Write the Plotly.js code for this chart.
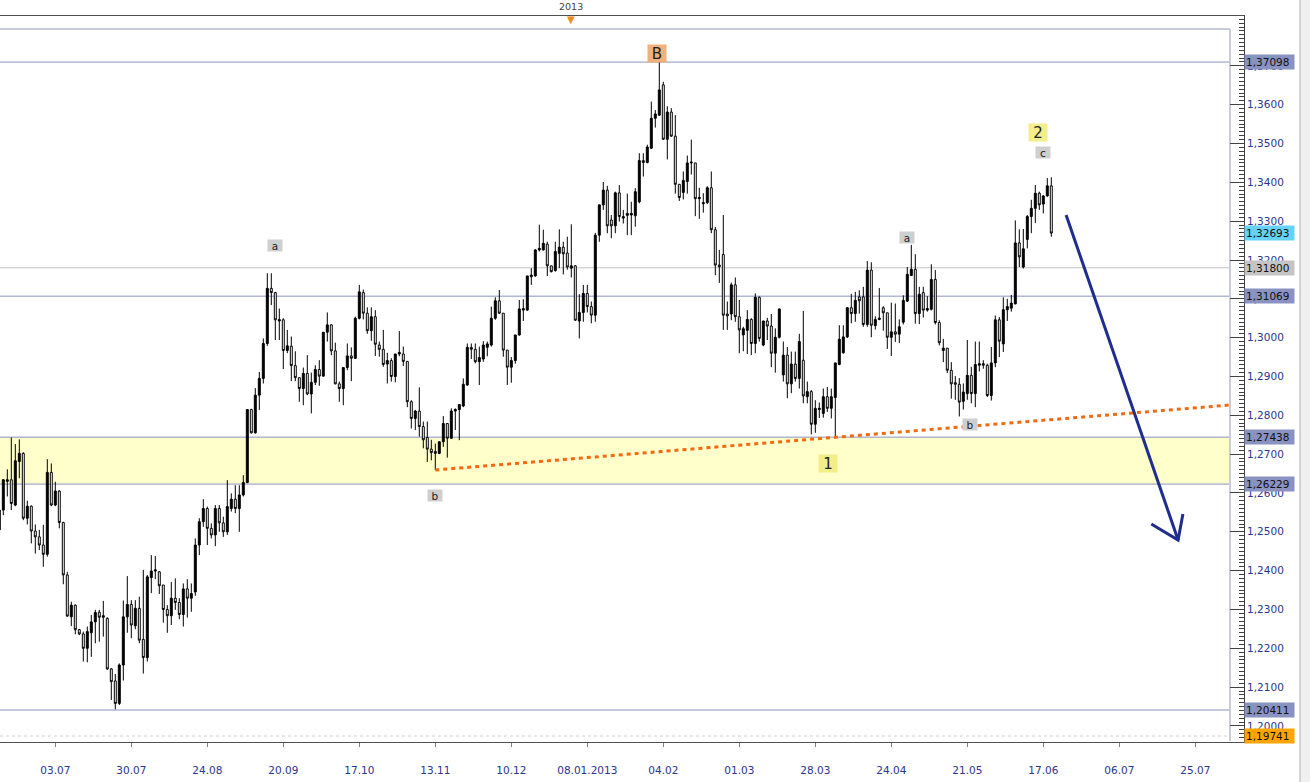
<!DOCTYPE html>
<html><head><meta charset="utf-8">
<script src="https://cdn.plot.ly/plotly-3.0.1.min.js"></script>
<style>html,body{margin:0;padding:0;background:#fff;}#chart{width:1310px;height:782px;}</style>
</head><body><div id="chart"></div>
<script>
// EUR/USD daily candles (bar index 0 = first visible bar)
const openP = [1.2505,1.2556,1.2630,1.2634,1.2569,1.2681,1.2702,1.2535,1.2566,1.2502,1.2487,1.2466,1.2442,1.2653,1.2569,1.2605,1.2524,1.2389,1.2281,1.2311,1.2248,1.2237,1.2200,1.2240,1.2268,
1.2293,1.2280,1.2277,1.2147,1.2116,1.2058,1.2157,1.2281,1.2313,1.2258,1.2303,1.2223,1.2176,1.2382,1.2399,1.2397,1.2363,1.2300,1.2284,1.2329,1.2318,1.2287,1.2353,1.2329,
1.2345,1.2466,1.2526,1.2560,1.2509,1.2492,1.2560,1.2523,1.2500,1.2560,1.2584,1.2560,1.2595,1.2627,1.2815,1.2755,1.2852,1.2895,1.2985,1.3127,1.3116,1.3047,1.3046,1.2967,
1.2978,1.2928,1.2897,1.2869,1.2908,1.2855,1.2885,1.2918,1.2901,1.3014,1.3033,1.2966,1.2881,1.2869,1.2923,1.2953,1.2947,1.3050,1.3116,1.3063,1.3018,1.3054,1.2981,1.2970,
1.2932,1.2941,1.2900,1.2958,1.2958,1.2939,1.2835,1.2792,1.2811,1.2771,1.2743,1.2713,1.2707,1.2702,1.2732,1.2779,1.2741,1.2811,1.2815,1.2824,1.2878,1.2975,1.2970,1.2938,
1.2945,1.2975,1.2981,1.3050,1.3095,1.3063,1.2968,1.2924,1.2941,1.3007,1.3071,1.3071,1.3157,1.3159,1.3226,1.3226,1.3241,1.3185,1.3173,1.3217,1.3233,1.3218,1.3179,
1.3185,1.3043,1.3065,1.3114,1.3080,1.3058,1.3264,1.3342,1.3380,1.3303,1.3288,1.3373,1.3312,1.3315,1.3316,1.3314,1.3350,1.3456,1.3451,1.3488,1.3565,1.3573,1.3651,
1.3511,1.3581,1.3519,1.3395,1.3374,1.3402,1.3450,1.3450,1.3358,1.3348,1.3348,1.3386,1.3278,1.3187,1.3214,1.3061,1.3061,1.3136,1.3054,1.3007,1.3019,1.3047,1.2985,
1.3104,1.2981,1.3043,1.3030,1.2960,1.3001,1.2904,1.2955,1.2881,1.2932,1.2895,1.2942,1.2848,1.2861,1.2777,1.2815,1.2805,1.2848,1.2818,1.2846,1.2931,1.2961,1.3002,1.3077,
1.3062,1.3105,1.3105,1.3034,1.3174,1.3031,1.3047,1.3077,1.3064,1.3001,1.3015,1.3009,1.3040,1.3094,1.3160,1.3176,1.3062,1.3116,1.3071,1.3073,1.3150,1.3039,1.2967,1.2973,
1.2916,1.2884,1.2880,1.2836,1.2856,1.2903,1.2856,1.2929,1.2933,1.2929,1.2851,1.2935,1.3046,1.2984,1.3072,1.3076,1.3087,1.3244,1.3182,1.3253,1.3312,1.3333,1.3372,1.3344,
1.3365,1.3391];
const highP = [1.2560,1.2636,1.2661,1.2743,1.2726,1.2738,1.2705,1.2580,1.2568,1.2519,1.2505,1.2518,1.2687,1.2676,1.2629,1.2607,1.2526,1.2397,1.2320,1.2313,1.2250,1.2243,1.2256,1.2286,1.2299,
1.2299,1.2322,1.2280,1.2149,1.2134,1.2161,1.2323,1.2386,1.2324,1.2324,1.2333,1.2402,1.2389,1.2440,1.2438,1.2399,1.2363,1.2311,1.2371,1.2380,1.2329,1.2367,1.2378,1.2367,
1.2483,1.2535,1.2584,1.2565,1.2522,1.2569,1.2569,1.2539,1.2633,1.2599,1.2620,1.2620,1.2646,1.2815,1.2817,1.2870,1.2912,1.2998,1.3166,1.3166,1.3118,1.3075,1.3050,1.3020,
1.3003,1.2965,1.2897,1.2923,1.2955,1.2910,1.2929,1.2942,1.3014,1.3065,1.3034,1.2987,1.2887,1.2923,1.2985,1.2975,1.3054,1.3136,1.3124,1.3078,1.3078,1.3071,1.2990,1.3020,
1.2961,1.2947,1.2958,1.3017,1.2977,1.2939,1.2839,1.2814,1.2872,1.2784,1.2784,1.2737,1.2727,1.2732,1.2798,1.2780,1.2818,1.2818,1.2828,1.2895,1.2985,1.2985,1.2985,1.2977,
1.2991,1.2990,1.3080,1.3104,1.3123,1.3063,1.2968,1.2950,1.3007,1.3097,1.3099,1.3159,1.3179,1.3228,1.3291,1.3278,1.3247,1.3185,1.3247,1.3279,1.3247,1.3260,1.3292,
1.3187,1.3112,1.3136,1.3136,1.3093,1.3270,1.3342,1.3401,1.3391,1.3316,1.3376,1.3393,1.3329,1.3371,1.3350,1.3385,1.3475,1.3475,1.3497,1.3608,1.3586,1.3710,1.3659,
1.3596,1.3591,1.3573,1.3395,1.3428,1.3469,1.3510,1.3450,1.3386,1.3372,1.3390,1.3428,1.3285,1.3226,1.3316,1.3093,1.3142,1.3155,1.3097,1.3028,1.3071,1.3050,1.3114,
1.3106,1.3043,1.3051,1.3061,1.3024,1.3074,1.2990,1.2976,1.2964,1.2964,1.3010,1.3069,1.2887,1.2865,1.2839,1.2833,1.2869,1.2873,1.2869,1.2935,1.3032,1.3032,1.3079,1.3113,
1.3118,1.3122,1.3131,1.3197,1.3194,1.3055,1.3128,1.3081,1.3064,1.3090,1.3088,1.3047,1.3109,1.3182,1.3239,1.3215,1.3131,1.3131,1.3107,1.3189,1.3174,1.3045,1.2997,1.2973,
1.2937,1.2901,1.2896,1.2882,1.2994,1.2925,1.2990,1.2990,1.2942,1.2933,1.2976,1.3057,1.3053,1.3104,1.3100,1.3110,1.3302,1.3279,1.3280,1.3316,1.3355,1.3393,1.3376,1.3367,
1.3411,1.3413];
const lowP = [1.2498,1.2543,1.2591,1.2556,1.2566,1.2638,1.2530,1.2519,1.2470,1.2444,1.2453,1.2410,1.2436,1.2566,1.2566,1.2509,1.2365,1.2281,1.2257,1.2236,1.2234,1.2166,1.2164,1.2178,1.2213,
1.2217,1.2230,1.2144,1.2067,1.2043,1.2054,1.2117,1.2240,1.2226,1.2249,1.2213,1.2135,1.2166,1.2342,1.2378,1.2340,1.2266,1.2240,1.2260,1.2299,1.2275,1.2256,1.2279,1.2294,
1.2335,1.2440,1.2513,1.2466,1.2483,1.2463,1.2500,1.2487,1.2492,1.2552,1.2548,1.2500,1.2591,1.2625,1.2753,1.2753,1.2814,1.2882,1.2979,1.3084,1.2994,1.2994,1.2919,1.2960,
1.2888,1.2888,1.2835,1.2826,1.2852,1.2805,1.2878,1.2876,1.2899,1.2990,1.2955,1.2880,1.2835,1.2826,1.2916,1.2888,1.2945,1.3047,1.3047,1.3010,1.2992,1.2953,1.2951,1.2925,
1.2882,1.2887,1.2885,1.2952,1.2927,1.2821,1.2766,1.2762,1.2745,1.2715,1.2680,1.2684,1.2659,1.2700,1.2719,1.2691,1.2739,1.2762,1.2736,1.2821,1.2876,1.2945,1.2934,1.2878,
1.2938,1.2952,1.2977,1.3046,1.3061,1.2951,1.2878,1.2884,1.2933,1.3005,1.3043,1.3069,1.3136,1.3157,1.3222,1.3224,1.3159,1.3168,1.3170,1.3179,1.3163,1.3175,1.3155,
1.3043,1.2998,1.3041,1.3065,1.3037,1.3041,1.3247,1.3329,1.3269,1.3256,1.3269,1.3299,1.3294,1.3264,1.3264,1.3286,1.3346,1.3415,1.3449,1.3486,1.3541,1.3571,1.3509,
1.3459,1.3517,1.3371,1.3352,1.3356,1.3371,1.3420,1.3313,1.3306,1.3322,1.3344,1.3269,1.3161,1.3141,1.3020,1.3020,1.3045,1.3041,1.2960,1.2965,1.2958,1.2955,1.2960,
1.2990,1.2978,1.2994,1.2924,1.2910,1.2998,1.2887,1.2844,1.2857,1.2887,1.2869,1.2831,1.2831,1.2751,1.2755,1.2793,1.2794,1.2809,1.2792,1.2743,1.2929,1.2959,1.2999,1.3037,
1.3041,1.3062,1.3028,1.3028,1.3001,1.3021,1.3045,1.3018,1.2971,1.2953,1.2989,1.2986,1.3034,1.3092,1.3159,1.3036,1.3035,1.3052,1.3067,1.3070,1.3034,1.2980,1.2937,1.2909,
1.2843,1.2840,1.2797,1.2815,1.2840,1.2831,1.2821,1.2913,1.2920,1.2847,1.2838,1.2924,1.2950,1.2963,1.3043,1.3067,1.3086,1.3182,1.3178,1.3230,1.3269,1.3295,1.3329,1.3320,
1.3363,1.3260];
const closeP = [1.2556,1.2634,1.2634,1.2573,1.2683,1.2702,1.2535,1.2566,1.2502,1.2487,1.2466,1.2442,1.2653,1.2569,1.2605,1.2524,1.2389,1.2283,1.2311,1.2248,1.2237,1.2200,1.2243,1.2268,1.2292,
1.2280,1.2284,1.2147,1.2114,1.2058,1.2157,1.2281,1.2313,1.2260,1.2303,1.2221,1.2176,1.2384,1.2399,1.2402,1.2361,1.2300,1.2284,1.2329,1.2318,1.2287,1.2353,1.2329,1.2341,
1.2466,1.2526,1.2560,1.2509,1.2492,1.2560,1.2523,1.2500,1.2565,1.2584,1.2560,1.2595,1.2627,1.2815,1.2755,1.2852,1.2895,1.2985,1.3127,1.3116,1.3046,1.3043,1.2967,1.2979,
1.2928,1.2897,1.2869,1.2908,1.2855,1.2885,1.2918,1.2901,1.3014,1.3033,1.2966,1.2881,1.2869,1.2923,1.2953,1.2947,1.3050,1.3118,1.3063,1.3018,1.3054,1.2983,1.2970,1.2931,
1.2941,1.2900,1.2958,1.2962,1.2939,1.2835,1.2792,1.2811,1.2771,1.2737,1.2713,1.2704,1.2702,1.2732,1.2779,1.2741,1.2811,1.2815,1.2828,1.2880,1.2975,1.2970,1.2938,1.2949,
1.2981,1.2984,1.3050,1.3095,1.3063,1.2968,1.2924,1.2941,1.3007,1.3074,1.3075,1.3159,1.3161,1.3226,1.3230,1.3243,1.3185,1.3170,1.3222,1.3233,1.3216,1.3182,1.3185,
1.3045,1.3065,1.3114,1.3080,1.3058,1.3264,1.3342,1.3380,1.3288,1.3288,1.3373,1.3312,1.3308,1.3320,1.3320,1.3376,1.3456,1.3451,1.3491,1.3565,1.3576,1.3638,1.3511,
1.3581,1.3519,1.3395,1.3361,1.3405,1.3450,1.3452,1.3358,1.3361,1.3345,1.3386,1.3278,1.3187,1.3183,1.3058,1.3056,1.3136,1.3054,1.3020,1.3023,1.3047,1.2985,1.3104,
1.2998,1.3043,1.3030,1.2960,1.3001,1.3074,1.2955,1.2881,1.2932,1.2895,1.2990,1.2850,1.2861,1.2777,1.2818,1.2818,1.2848,1.2818,1.2848,1.2935,1.2996,1.3002,1.3077,1.3062,
1.3096,1.3095,1.3034,1.3174,1.3032,1.3047,1.3050,1.3064,1.3001,1.3015,1.3009,1.3028,1.3096,1.3163,1.3176,1.3062,1.3112,1.3071,1.3075,1.3150,1.3039,1.2987,1.2973,1.2916,
1.2881,1.2880,1.2834,1.2860,1.2903,1.2856,1.2931,1.2933,1.2929,1.2851,1.2935,1.3046,1.2991,1.3072,1.3080,1.3089,1.3244,1.3208,1.3229,1.3312,1.3333,1.3372,1.3342,1.3365,
1.3391,1.32693];

// bottom axis ticks (bar index) and their labels
const tickBars = [14,33,52,71,90,109,128,147,166,185,204,223,242,261,280,299];
const tickLabels = ['03.07','30.07','24.08','20.09','17.10','13.11','10.12','08.01.2013','04.02','01.03','28.03','24.04','21.05','17.06','06.07','25.07'];
const yearBar = 143, yearText = '2013';

// right price axis tick values
const priceTicks = [1.20,1.21,1.22,1.23,1.24,1.25,1.26,1.27,1.28,1.29,1.30,1.31,1.32,1.33,1.34,1.35,1.36,1.37];

// horizontal price levels and their tag labels
const levelValues = [1.37098, 1.31800, 1.31069, 1.27438, 1.26229, 1.20411];
const levelColors = ['#8a92c2','#c4c4c4','#8a92c2','#8a92c2','#8a92c2','#8a92c2'];
const zoneLow = 1.26229, zoneHigh = 1.27438;
const tagValues = [1.37098, 1.32693, 1.31800, 1.31069, 1.27438, 1.26229, 1.20411, 1.19741];
const tagTexts  = ['1,37098','1,32693','1,31800','1,31069','1,27438','1,26229','1,20411','1,19741'];
const tagColors = ['#8a92c2','#66d2f5','#c4c4c4','#8a92c2','#8a92c2','#8a92c2','#8a92c2','#ffa500'];
const dashLevel = 1.19741;

// trend line (through the two lows) and projected arrow
const trendX = [109, 307.7];
const trendY = [1.26592, 1.28266];
const arrowX = [266.7, 294.7, null, 288.0, 294.7, 295.9];
const arrowY = [1.33159, 1.24789, null, 1.25201, 1.24789, 1.25459];

// wave labels
const waveText = ['B','2','c','a','a','b','b','1'];
const waveX = [164.4, 259.7, 260.9, 68.9, 226.9, 108.9, 242.7, 207.2];
const waveY = [1.37331, 1.35296, 1.34781, 1.32386, 1.32592, 1.25948, 1.27751, 1.26772];
const waveKind = ['big','yellow','small','small','small','small','small','yellow'];

const W = 1310, H = 782;
const L = 0, R = 1244, T = 16, B = 742;
const pw = R - L, ph = B - T;
const px = v => (v - L) / pw;          // pixel -> paper x
const py = v => (B - v) / ph;          // pixel -> paper y

const xIdx = openP.map((_, i) => i);

const traces = [
  {type:'scatter', x:trendX, y:trendY, mode:'lines', hoverinfo:'skip',
   line:{color:'#f26a10', width:3, dash:'4px,4px'}},
  {type:'candlestick', x:xIdx, open:openP, high:highP, low:lowP, close:closeP,
   hoverinfo:'skip', whiskerwidth:0,
   increasing:{line:{color:'#000', width:1}, fillcolor:'#000'},
   decreasing:{line:{color:'#000', width:1}, fillcolor:'#fff'}},
  {type:'scatter', x:arrowX, y:arrowY, mode:'lines', hoverinfo:'skip',
   line:{color:'#1f2d8c', width:3}}
];

const shapes = [];
shapes.push({type:'rect', xref:'paper', yref:'y', x0:0, x1:px(1230), y0:zoneLow, y1:zoneHigh,
  fillcolor:'#ffffcc', line:{width:0}, layer:'below'});
levelValues.forEach((v, i) => shapes.push({type:'line', xref:'paper', yref:'y', x0:0, x1:px(1230), y0:v, y1:v,
  line:{color:levelColors[i], width:1}, layer:'below'}));
shapes.push({type:'line', xref:'paper', yref:'y', x0:0, x1:px(1230), y0:dashLevel, y1:dashLevel,
  line:{color:'#d0d0d0', width:1, dash:'3px,3px'}, layer:'below'});
// inner light frame
shapes.push({type:'line', xref:'paper', yref:'paper', x0:0, x1:px(1230), y0:py(29), y1:py(29), line:{color:'#c8ccd8', width:2}, layer:'below'});
shapes.push({type:'line', xref:'paper', yref:'paper', x0:px(1230), x1:px(1230), y0:py(29), y1:py(741), line:{color:'#c8ccd8', width:2}, layer:'below'});
// right strip
shapes.push({type:'rect', xref:'paper', yref:'paper', x0:px(1300), x1:px(1312), y0:py(784), y1:py(-2),
  fillcolor:'#f0f0f0', line:{width:0}});
shapes.push({type:'line', xref:'paper', yref:'paper', x0:px(1300), x1:px(1300), y0:py(784), y1:py(-2),
  line:{color:'#b0b0b0', width:1}});

const annotations = [];
tagValues.forEach((v, i) => annotations.push({xref:'paper', yref:'y', x:px(1244), y:v, xanchor:'left', yanchor:'middle',
  text:tagTexts[i], showarrow:false, bgcolor:tagColors[i], width:47, height:12, align:'left', borderpad:1,
  font:{family:'DejaVu Sans', size:10.5, color:'#111'}}));
waveText.forEach((t, i) => {
  const k = waveKind[i];
  const bg = k === 'big' ? '#f2b07c' : (k === 'yellow' ? '#f3ee8a' : '#cfcfcf');
  const fs = k === 'small' ? 10.5 : 15;
  const w = k === 'small' ? 12 : 16;
  const h = k === 'small' ? 9 : 15;
  annotations.push({xref:'x', yref:'y', x:waveX[i], y:waveY[i], text:t, showarrow:false,
    bgcolor:bg, width:w, height:h, borderpad:1, font:{family:'DejaVu Sans', size:fs, color:'#222'}});
});
annotations.push({xref:'x', yref:'paper', x:yearBar, y:py(7), yanchor:'middle', text:yearText, showarrow:false,
  font:{family:'DejaVu Sans', size:9.5, color:'#444'}});
annotations.push({xref:'x', yref:'paper', x:yearBar, y:py(20), yanchor:'middle', text:'▼', showarrow:false,
  font:{family:'DejaVu Sans', size:10, color:'#f28a1c'}});

const layout = {
  width:W, height:H, margin:{l:L, r:W-R, t:T, b:H-B, pad:0},
  paper_bgcolor:'#ffffff', plot_bgcolor:'#ffffff', showlegend:false,
  separators:',.', font:{family:'DejaVu Sans', size:10.5, color:'#2b3590'},
  xaxis:{range:[0.175, 311.175], tickvals:tickBars, ticktext:tickLabels, tickangle:0,
    showgrid:false, zeroline:false, showline:true, linecolor:'#505050', mirror:true,
    ticks:'outside', ticklen:4, tickcolor:'#808080', ticklabelstandoff:14,
    tickfont:{family:'DejaVu Sans', size:10.5, color:'#2b3590'},
    rangeslider:{visible:false}, fixedrange:true},
  yaxis:{side:'right', range:[1.19587, 1.38284], tickvals:priceTicks, tickformat:'.4f',
    showgrid:false, zeroline:false, showline:true, linecolor:'#404040',
    ticks:'inside', ticklen:14, tickcolor:'#404040', tickwidth:1,
    minor:{dtick:0.001, ticks:'inside', ticklen:5, tickcolor:'#404040', showgrid:false},
    tickfont:{family:'DejaVu Sans', size:10.5, color:'#2b3590'}, fixedrange:true},
  shapes:shapes, annotations:annotations
};

Plotly.newPlot('chart', traces, layout, {staticPlot:true, displayModeBar:false});
</script></body></html>
